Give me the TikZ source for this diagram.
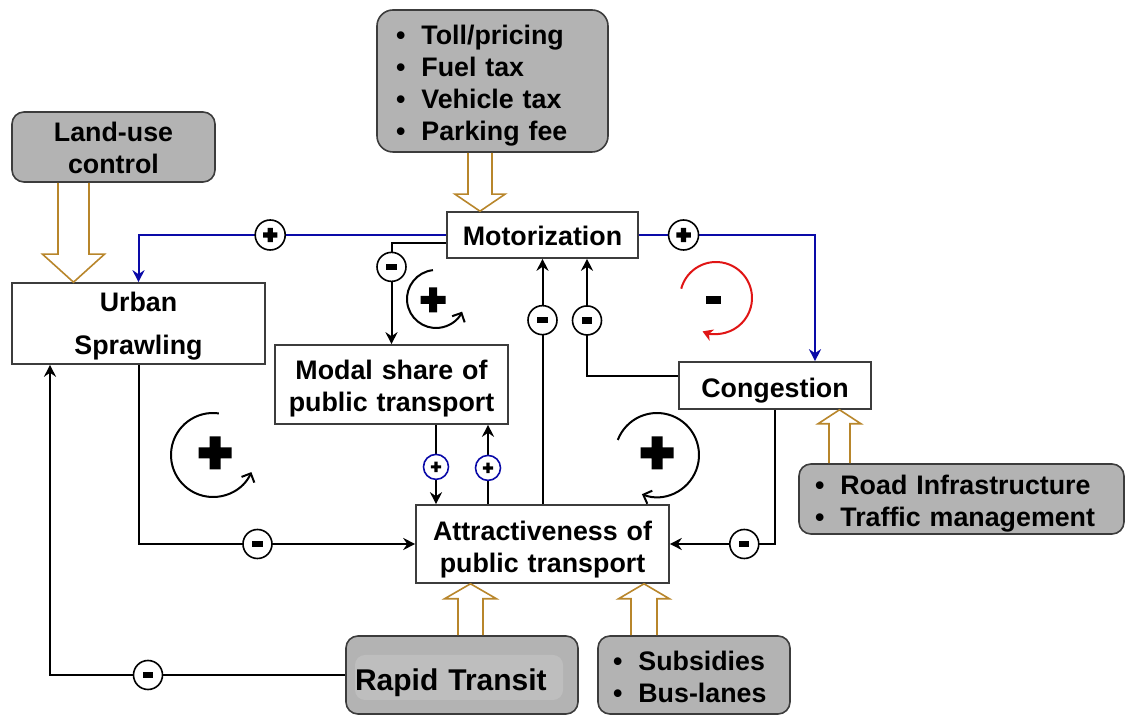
\documentclass[tikz,border=0pt]{standalone}
\usepackage{fontspec}
\setmainfont{Liberation Sans}
\usetikzlibrary{calc,arrows.meta}
\definecolor{boxgray}{HTML}{B3B3B3}
\definecolor{innergray}{HTML}{BEBEBE}
\definecolor{brd}{HTML}{3C3C3C}
\definecolor{brownarr}{HTML}{B8862B}
\definecolor{linkblue}{HTML}{0A0AA8}
\definecolor{loopred}{HTML}{E01515}
\newcommand\itm{\textbullet\hspace{8pt}}
\newcommand\blkarrow[5]{\draw[blockarr] let \p1=(#1), \p2=(#2) in
  (\x1-#3,\y1) -- (\x1-#3,\y2#5) -- (\x1-#4,\y2#5) -- (\x1,\y2) -- (\x1+#4,\y2#5) -- (\x1+#3,\y2#5) -- (\x1+#3,\y1);}
\newcommand\bigplus[3]{\fill (#1) +(-#2,-#3) rectangle +(#2,#3) +(-#3,-#2) rectangle +(#3,#2);}
\tikzset{
  every node/.style={font=\fontsize{13.4}{16}\selectfont\bfseries},
  plainbox/.style={draw=brd, line width=0.8pt, fill=white, align=center, inner sep=0pt},
  graybox/.style={draw=brd, line width=0.8pt, fill=boxgray, inner sep=0pt},
  conn/.style={line width=1pt, -{Stealth[length=6pt,width=6pt,inset=2pt]}},
  bconn/.style={conn, draw=linkblue},
  blockarr/.style={draw=brownarr, line width=0.8pt, line join=miter},
  mcirc/.style={circle, draw=black, line width=0.8pt, fill=white, minimum width=13.5pt, minimum height=14.5pt, inner sep=0pt,
    path picture={\fill[black] (path picture bounding box.center) +(-2.6pt,-1.6pt) rectangle +(2.6pt,1.6pt);}},
  pcirc/.style={circle, draw=black, line width=0.8pt, fill=white, minimum size=15pt, inner sep=0pt,
    path picture={\fill[black] (path picture bounding box.center) +(-3.6pt,-1.3pt) rectangle +(3.6pt,1.3pt)
      +(-1.3pt,-3.6pt) rectangle +(1.3pt,3.6pt);}},
  bpcirc/.style={circle, draw=linkblue, line width=0.8pt, fill=white, minimum size=12.5pt, inner sep=0pt,
    path picture={\fill[black] (path picture bounding box.center) +(-2.6pt,-0.8pt) rectangle +(2.6pt,0.8pt)
      +(-0.8pt,-2.6pt) rectangle +(0.8pt,2.6pt);}},
  loopln/.style={line width=1pt, -{Straight Barb[length=3.5pt,width=7pt]}},
}
\begin{document}
\begin{tikzpicture}[x=0.5pt, y=-0.5pt]
\useasboundingbox (0,0) rectangle (1125,715);

% boxes
\node[graybox, rounded corners=8pt, minimum width=115.5pt, minimum height=71pt, text width=96.5pt, inner xsep=9.5pt, align=left, text height=14.8pt] (toll) at (492.5,81)
  {\itm Toll/pricing\\\itm Fuel tax\\\itm Vehicle tax\\\itm Parking fee};
\node[graybox, rounded corners=6pt, minimum width=101.5pt, minimum height=35pt, text width=101.5pt, align=center, text height=10.4pt] (land) at (113.5,147) {Land-use\\control};
\node[plainbox, minimum width=95.5pt, minimum height=23pt, text height=10.8pt] (mot) at (542.5,235) {Motorization};
\node[plainbox, minimum width=126.5pt, minimum height=40.5pt, text width=126.5pt, text height=12.8pt] (urban) at (138.5,323.5) {Urban\\[5.5pt]Sprawling};
\node[plainbox, minimum width=116.5pt, minimum height=39.5pt, text width=116.5pt, text height=13.8pt] (modal) at (391.5,384.5) {Modal share of\\public transport};
\node[plainbox, minimum width=96pt, minimum height=23.5pt, text height=14.8pt] (cong) at (775,385.5) {Congestion};
\node[plainbox, minimum width=126.5pt, minimum height=39pt, text width=126.5pt, text height=14.8pt] (attr) at (542.5,544) {Attractiveness of\\public transport};
\node[graybox, rounded corners=6pt, minimum width=162.5pt, minimum height=35pt, text width=146.5pt, inner xsep=8pt, align=left, text height=14.8pt] (road) at (961.5,499)
  {\itm Road Infrastructure\\\itm Traffic management};
\node[graybox, rounded corners=6pt, minimum width=116pt, minimum height=39pt, text width=107pt, inner xsep=4.5pt, align=left, text height=18.5pt,
  font=\fontsize{15}{18}\selectfont\bfseries,
  path picture={\fill[innergray, rounded corners=5pt] ($(path picture bounding box.south west)+(4.5pt,7pt)$) rectangle ($(path picture bounding box.north east)+(-7.5pt,-9.5pt)$);}]
  (rapid) at (462,675) {Rapid Transit};
\node[graybox, rounded corners=6pt, minimum width=96pt, minimum height=39pt, text width=81pt, inner xsep=7.5pt, align=left, text height=11.8pt] (subs) at (694,675)
  {\itm Subsidies\\\itm Bus-lanes};

% block arrows
\blkarrow{$(toll.south)+(-12.5,0)$}{mot.north}{6pt}{12.5pt}{+8.5pt}
\blkarrow{$(land.south)+(-40,0)$}{urban.north}{7.75pt}{15.5pt}{+14pt}
\blkarrow{$(road.north)+(-122,0)$}{cong.south}{5.25pt}{10.75pt}{-7pt}
\blkarrow{$(rapid.north)+(8.5,0)$}{attr.south}{6.25pt}{13pt}{-7.5pt}
\blkarrow{$(subs.north)+(-50,0)$}{attr.south}{6.5pt}{12.75pt}{-7.5pt}

% connectors
\draw[bconn] (mot.west) -| (urban.north) node[pcirc, pos=0.286] (pc1) {};
\draw[bconn] (mot.east) -| ($(cong.north)+(40,0)$) node[pcirc, pos=0.127] (pc2) {};
\draw[conn] ($(mot.west)+(0,8)$) -| (modal.north) node[mcirc, pos=0.618] (mc1) {};
\draw[conn] (attr.north) -- (mot.south) node[mcirc, pos=0.75] (mc2) {};
\draw[conn] ($(cong.west)+(0,-9.5)$) -| ($(mot.south)+(44.5,0)$) node[mcirc, pos=0.737] (mc3) {};
\coordinate (m1) at ($(modal.south)+(44.5,0)$);
\coordinate (m2) at ($(modal.south)+(96.5,0)$);
\draw[conn] (m1) -- (m1 |- attr.north) node[bpcirc, pos=0.53] (bp1) {};
\draw[conn] (m2 |- attr.north) -- (m2) node[bpcirc, pos=0.457] (bp2) {};
\draw[conn] (urban.south) |- (attr.west) node[mcirc, pos=0.715] (mc4) {};
\draw[conn] (cong.south) |- (attr.east) node[mcirc, pos=0.646] (mc5) {};
\draw[conn, line width=0.8pt] (rapid.west) -| ($(urban.south)+(-88.5,0)$) node[mcirc, pos=0.334] (mc6) {};

% loops
\draw[loopln] (436,299) ++(96:14.5pt) arc[start angle=96, end angle=334, radius=14.5pt];
\bigplus{433,300}{6.25pt}{2pt}
\draw[loopln] (213,455) ++(82:21pt) arc[start angle=82, end angle=336, radius=21pt];
\bigplus{215,453}{8.25pt}{2.75pt}
\draw[loopln] (657,455) ++(159:21pt) arc[start angle=159, end angle=-111, radius=21pt];
\bigplus{657,453}{8.25pt}{2.75pt}
\draw[line width=1pt, draw=loopred, -{Stealth[length=5pt,width=6pt,inset=1.5pt]}] (716,298) ++(165:18pt) arc[start angle=165, end angle=-112, radius=18pt];
\fill (713,300) +(-3.75pt,-2pt) rectangle +(3.75pt,2pt);
\end{tikzpicture}
\end{document}
